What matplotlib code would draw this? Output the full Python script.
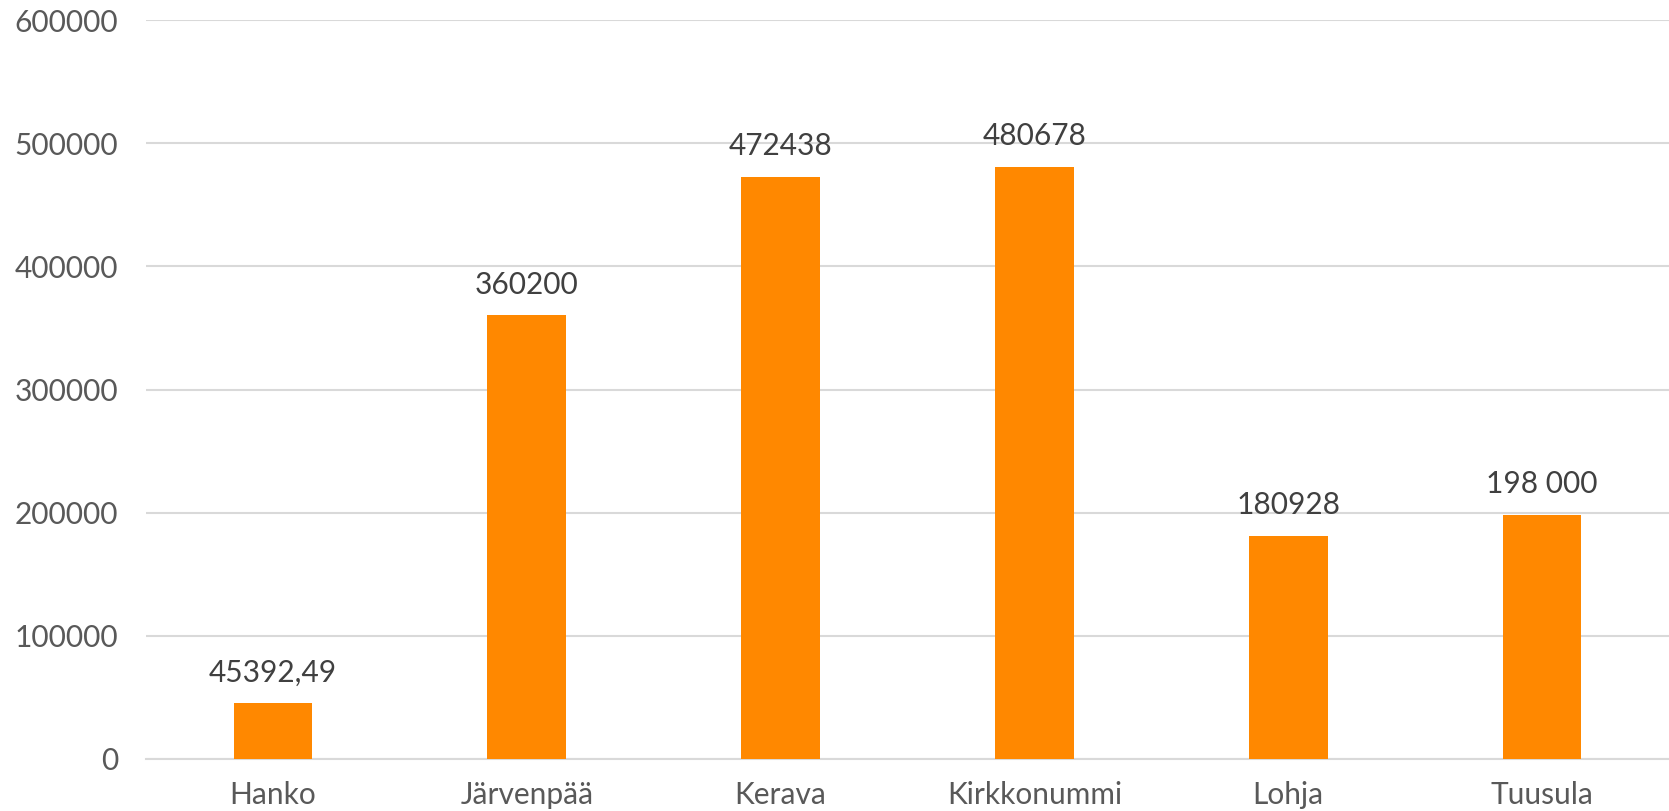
import matplotlib
matplotlib.use("Agg")
import matplotlib.pyplot as plt

categories = ["Hanko", "Järvenpää", "Kerava", "Kirkkonummi", "Lohja", "Tuusula"]
values = [45392.49, 360200, 472438, 480678, 180928, 198000]
value_labels = ["45392,49", "360200", "472438", "480678", "180928", "198 000"]
yticks = [0, 100000, 200000, 300000, 400000, 500000, 600000]

plt.rcParams["font.family"] = ["Lato", "DejaVu Sans"]

fig = plt.figure(figsize=(16.69, 8.11), dpi=100)
ax = fig.add_axes([146 / 1669, 1 - 759 / 811, 1 - 146 / 1669, (759 - 20) / 811])

xs = range(len(categories))
bars = ax.bar(xs, values, width=0.31, color="#FF8800", zorder=3)

for b, lab in zip(bars, value_labels):
    ax.annotate(lab, (b.get_x() + b.get_width() / 2, b.get_height()),
                xytext=(0, 12), textcoords="offset points",
                ha="center", va="bottom", fontsize=21.5, color="#404040", zorder=4)

ax.set_xlim(-0.5, len(categories) - 0.5)
ax.set_ylim(0, 600000)
ax.set_yticks(yticks)
ax.set_yticklabels([str(t) for t in yticks])
ax.set_xticks(list(xs))
ax.set_xticklabels(categories)

ax.tick_params(axis="y", length=0, pad=20, labelsize=21.5, labelcolor="#595959")
ax.tick_params(axis="x", length=0, pad=16, labelsize=21.5, labelcolor="#595959")

ax.grid(axis="y", color="#d9d9d9", linewidth=1.5, zorder=0)
for s in ["top", "right", "left"]:
    ax.spines[s].set_visible(False)
ax.spines["bottom"].set_color("#d9d9d9")
ax.spines["bottom"].set_linewidth(1.5)

fig.savefig("out.png", dpi=100)
